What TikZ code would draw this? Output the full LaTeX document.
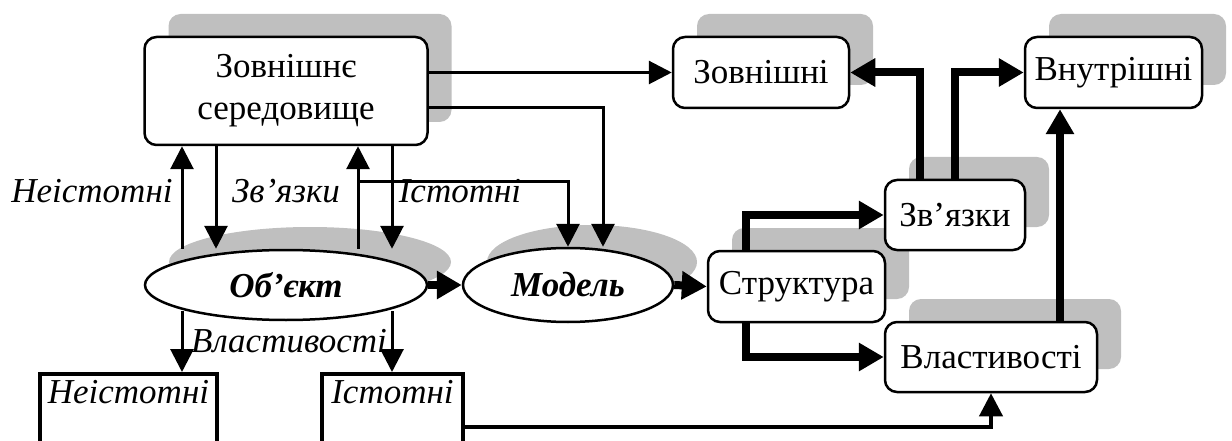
\documentclass[tikz,border=0pt]{standalone}
\usepackage{fontspec}
\setmainfont{Liberation Serif}
\usetikzlibrary{arrows.meta,calc,shapes.geometric,shadows}
\begin{document}
\begin{tikzpicture}[x=1pt,y=-1pt,
  greyback/.style={drop shadow={shadow xshift=24pt,shadow yshift=23pt,fill=black!25,opacity=1}},
  txt/.style={font=\fontsize{35}{42}\selectfont},
  itxt/.style={font=\itshape\fontsize{35}{42}\selectfont, inner sep=0pt},
  box/.style={draw, line width=2.5pt, rounded corners=12pt, fill=white, greyback,
    align=center, inner sep=0pt, txt},
  oval/.style={draw, ellipse, line width=2.5pt, fill=white, greyback, inner sep=0pt,
    font=\bfseries\itshape\fontsize{35}{42}\selectfont},
  cut/.style={draw, line width=3.5pt, fill=white, anchor=north, minimum height=150pt},
  ln/.style={line width=3pt, -{Triangle[length=23pt,width=23pt]}},
  mid/.style={line width=4pt, -{Triangle[length=23pt,width=23pt]}},
  fat/.style={line width=8pt, -{Triangle[length=25pt,width=27pt]}},
]
\useasboundingbox (0,0) rectangle (1232,441);
\clip (0,0) rectangle (1232,441);

% boxes and ovals
\node[box, minimum width=283pt, minimum height=108pt] (env) at (286,91) {Зовнішнє\\середовище};
\node[box, minimum width=176pt, minimum height=71pt] (ext) at (761,72.5) {Зовнішні};
\node[box, minimum width=177pt, minimum height=71pt] (inn) at (1113.5,72.5) {Внутрішні};
\node[box, minimum width=177pt, minimum height=71pt] (str) at (796.5,286.5) {Структура};
\node[box, minimum width=140pt, minimum height=70pt] (link) at (955,215) {Зв’язки};
\node[box, minimum width=212pt, minimum height=70pt] (prop) at (991,357) {Властивості};
\node[oval, minimum width=282pt, minimum height=70pt] (obj) at (286,285) {Об’єкт};
\node[oval, minimum width=210pt, minimum height=74pt] (mod) at (568,285) {Модель};
\node[cut, minimum width=177pt] (nb) at (128.5,372) {};
\node[cut, minimum width=141pt] (ib) at (392.5,372) {};

% captions
\node[itxt, anchor=base] (nbt) at ($(nb.north)+(0,31)$) {Неістотні};
\node[itxt, anchor=base] (ibt) at ($(ib.north)+(0,31)$) {Істотні};
\node[itxt, anchor=base] (lneist) at (92,202) {Неістотні};
\node[itxt, anchor=base] (lzv) at (286,202) {Зв’язки};
\node[itxt, anchor=base] (list) at (460,202) {Істотні};

% environment <-> object
\draw[ln] ($(obj.north)+(-104,0)$) -- ($(env.south)+(-104,0)$);
\draw[ln] ($(env.south)+(-70,0)$) -- ($(obj.north)+(-70,0)$);
\draw[ln] ($(obj.north)+(72,0)$) -- ($(env.south)+(72,0)$);
\draw[ln] ($(env.south)+(106,0)$) -- ($(obj.north)+(106,0)$);
\draw[ln] ($(env.south)+(72,35)$) -| (mod.north);
\draw[ln] ($(env.east)+(0,17)$) -| ($(mod.north)+(35,0)$);
\draw[ln] (env.east |- ext.west) -- (ext.west);

% object -> properties
\draw[ln] ($(obj.center)+(-104,26)$) coordinate (p1) -- (p1 |- nb.north);
\draw[ln] ($(obj.center)+(106,26)$) coordinate (p2) -- (p2 |- ib.north);
\node[itxt, anchor=base] (lvl) at (289,352) {Властивості};
\draw[mid] ($(ib.north east)+(0,55)$) -| (prop.south);

% main chain
\draw[fat] (obj.east) -- (mod.west);
\draw[fat] (mod.east) -- (str.west);
\draw[fat] ($(str.north west)+(39,0)$) |- (link.west);
\draw[fat] ($(str.south west)+(39,0)$) |- (prop.west);
\draw[fat] ($(link.north)+(-35,0)$) |- (ext.east);
\draw[fat] (link.north) |- (inn.west);
\draw[fat] ($(prop.north)+(69,0)$) coordinate (p3) -- (p3 |- inn.south);
\end{tikzpicture}
\end{document}
